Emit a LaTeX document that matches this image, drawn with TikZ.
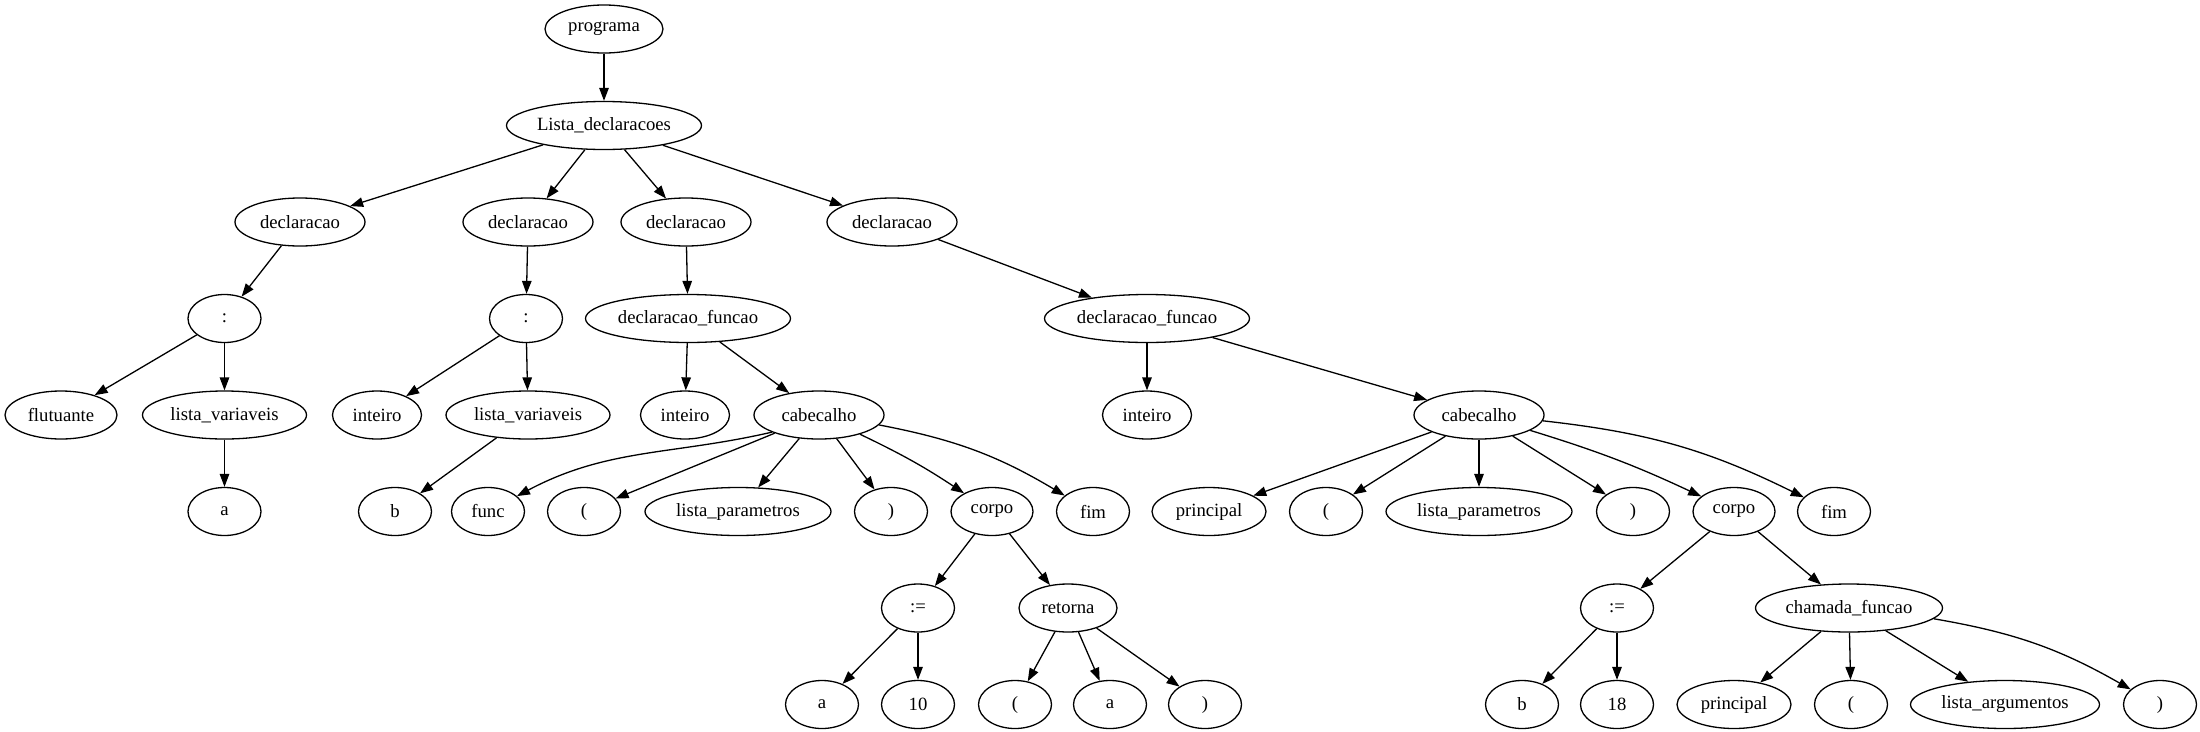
\documentclass[tikz,border=0pt]{standalone}
\usepackage{fontspec}
\setmainfont{Liberation Serif}
\usetikzlibrary{shapes.geometric,arrows.meta}
\begin{document}
\begin{tikzpicture}[x=1pt,y=-1pt,
  nd/.style={draw, ellipse, line width=1.3pt, minimum height=48pt, minimum width=73pt, inner sep=0pt, font=\fontsize{18.7}{22}\selectfont},
  ed/.style={line width=1.3pt, -{Triangle[length=13pt,width=9.5pt]}},
  ]
\useasboundingbox (0,0) rectangle (2200,731);
% row 0
\node[nd, minimum width=118pt] (prog) at (604,29) {programa};
% row 1
\node[nd, minimum width=195pt] (ld) at (604,125.5) {Lista\_declaracoes};
% row 2
\node[nd, minimum width=130pt] (d1) at (300,222) {declaracao};
\node[nd, minimum width=130pt] (d2) at (528,222) {declaracao};
\node[nd, minimum width=130pt] (d3) at (686,222) {declaracao};
\node[nd, minimum width=130pt] (d4) at (892,222) {declaracao};
% row 3
\node[nd] (c1) at (224.5,318.5) {:};
\node[nd] (c2) at (526,318.5) {:};
\node[nd, minimum width=205pt] (df1) at (688,318.5) {declaracao\_funcao};
\node[nd, minimum width=205pt] (df2) at (1147,318.5) {declaracao\_funcao};
% row 4
\node[nd, minimum width=112pt] (flut) at (61,415) {flutuante};
\node[nd, minimum width=164pt] (lv1) at (224.5,415) {lista\_variaveis};
\node[nd, minimum width=89pt] (int1) at (377,415) {inteiro};
\node[nd, minimum width=164pt] (lv2) at (528,415) {lista\_variaveis};
\node[nd, minimum width=89pt] (int2) at (685,415) {inteiro};
\node[nd, minimum width=130pt] (cab1) at (819,415) {cabecalho};
\node[nd, minimum width=89pt] (int3) at (1147,415) {inteiro};
\node[nd, minimum width=130pt] (cab2) at (1479,415) {cabecalho};
% row 5
\node[nd] (a1) at (224.5,511.5) {a};
\node[nd] (b1) at (395,511.5) {b};
\node[nd] (func) at (488,511.5) {func};
\node[nd] (lp1) at (584,511.5) {(};
\node[nd, minimum width=186pt] (lpar1) at (738,511.5) {lista\_parametros};
\node[nd] (rp1) at (891,511.5) {)};
\node[nd, minimum width=82pt] (corpo1) at (992,511.5) {corpo};
\node[nd] (fim1) at (1093,511.5) {fim};
\node[nd, minimum width=114pt] (princ1) at (1209,511.5) {principal};
\node[nd] (lp2) at (1326,511.5) {(};
\node[nd, minimum width=186pt] (lpar2) at (1479,511.5) {lista\_parametros};
\node[nd] (rp2) at (1633,511.5) {)};
\node[nd, minimum width=82pt] (corpo2) at (1734,511.5) {corpo};
\node[nd] (fim2) at (1834,511.5) {fim};
% row 6
\node[nd] (as1) at (918,608) {:=};
\node[nd, minimum width=98pt] (ret) at (1068,608) {retorna};
\node[nd] (as2) at (1617,608) {:=};
\node[nd, minimum width=187pt] (cham) at (1849,608) {chamada\_funcao};
% row 7
\node[nd] (a2) at (822,704.5) {a};
\node[nd] (n10) at (918,704.5) {10};
\node[nd] (lp3) at (1015,704.5) {(};
\node[nd] (a3) at (1110,704.5) {a};
\node[nd] (rp3) at (1205,704.5) {)};
\node[nd] (b2) at (1522,704.5) {b};
\node[nd] (n18) at (1617,704.5) {18};
\node[nd, minimum width=114pt] (princ2) at (1734,704.5) {principal};
\node[nd] (lp4) at (1851,704.5) {(};
\node[nd, minimum width=189pt] (largs) at (2005,704.5) {lista\_argumentos};
\node[nd] (rp4) at (2160,704.5) {)};
% edges
\draw[ed] (prog) -- (ld);
\draw[ed] (ld) -- (d1);
\draw[ed] (ld) -- (d2);
\draw[ed] (ld) -- (d3);
\draw[ed] (ld) -- (d4);
\draw[ed] (d1) -- (c1);
\draw[ed] (c1) -- (flut);
\draw[ed] (c1) -- (lv1);
\draw[ed] (lv1) -- (a1);
\draw[ed] (d2) -- (c2);
\draw[ed] (c2) -- (int1);
\draw[ed] (c2) -- (lv2);
\draw[ed] (lv2) -- (b1);
\draw[ed] (d3) -- (df1);
\draw[ed] (df1) -- (int2);
\draw[ed] (df1) -- (cab1);
\draw[ed] (cab1.200) to[out=193, in=28] (func);
\draw[ed] (cab1) -- (lp1);
\draw[ed] (cab1) -- (lpar1);
\draw[ed] (cab1) -- (rp1);
\draw[ed] (cab1) to[bend left=4] (corpo1);
\draw[ed] (cab1) to[bend left=10] (fim1);
\draw[ed] (corpo1) -- (as1);
\draw[ed] (corpo1) -- (ret);
\draw[ed] (as1) -- (a2);
\draw[ed] (as1) -- (n10);
\draw[ed] (ret) -- (lp3);
\draw[ed] (ret) -- (a3);
\draw[ed] (ret) -- (rp3);
\draw[ed] (d4) -- (df2);
\draw[ed] (df2) -- (int3);
\draw[ed] (df2) -- (cab2);
\draw[ed] (cab2) -- (princ1);
\draw[ed] (cab2) -- (lp2);
\draw[ed] (cab2) -- (lpar2);
\draw[ed] (cab2) -- (rp2);
\draw[ed] (cab2) to[bend left=4] (corpo2);
\draw[ed] (cab2) to[bend left=10] (fim2);
\draw[ed] (corpo2) -- (as2);
\draw[ed] (corpo2) -- (cham);
\draw[ed] (as2) -- (b2);
\draw[ed] (as2) -- (n18);
\draw[ed] (cham) -- (princ2);
\draw[ed] (cham) -- (lp4);
\draw[ed] (cham) -- (largs);
\draw[ed] (cham) to[bend left=10] (rp4);
\end{tikzpicture}
\end{document}
